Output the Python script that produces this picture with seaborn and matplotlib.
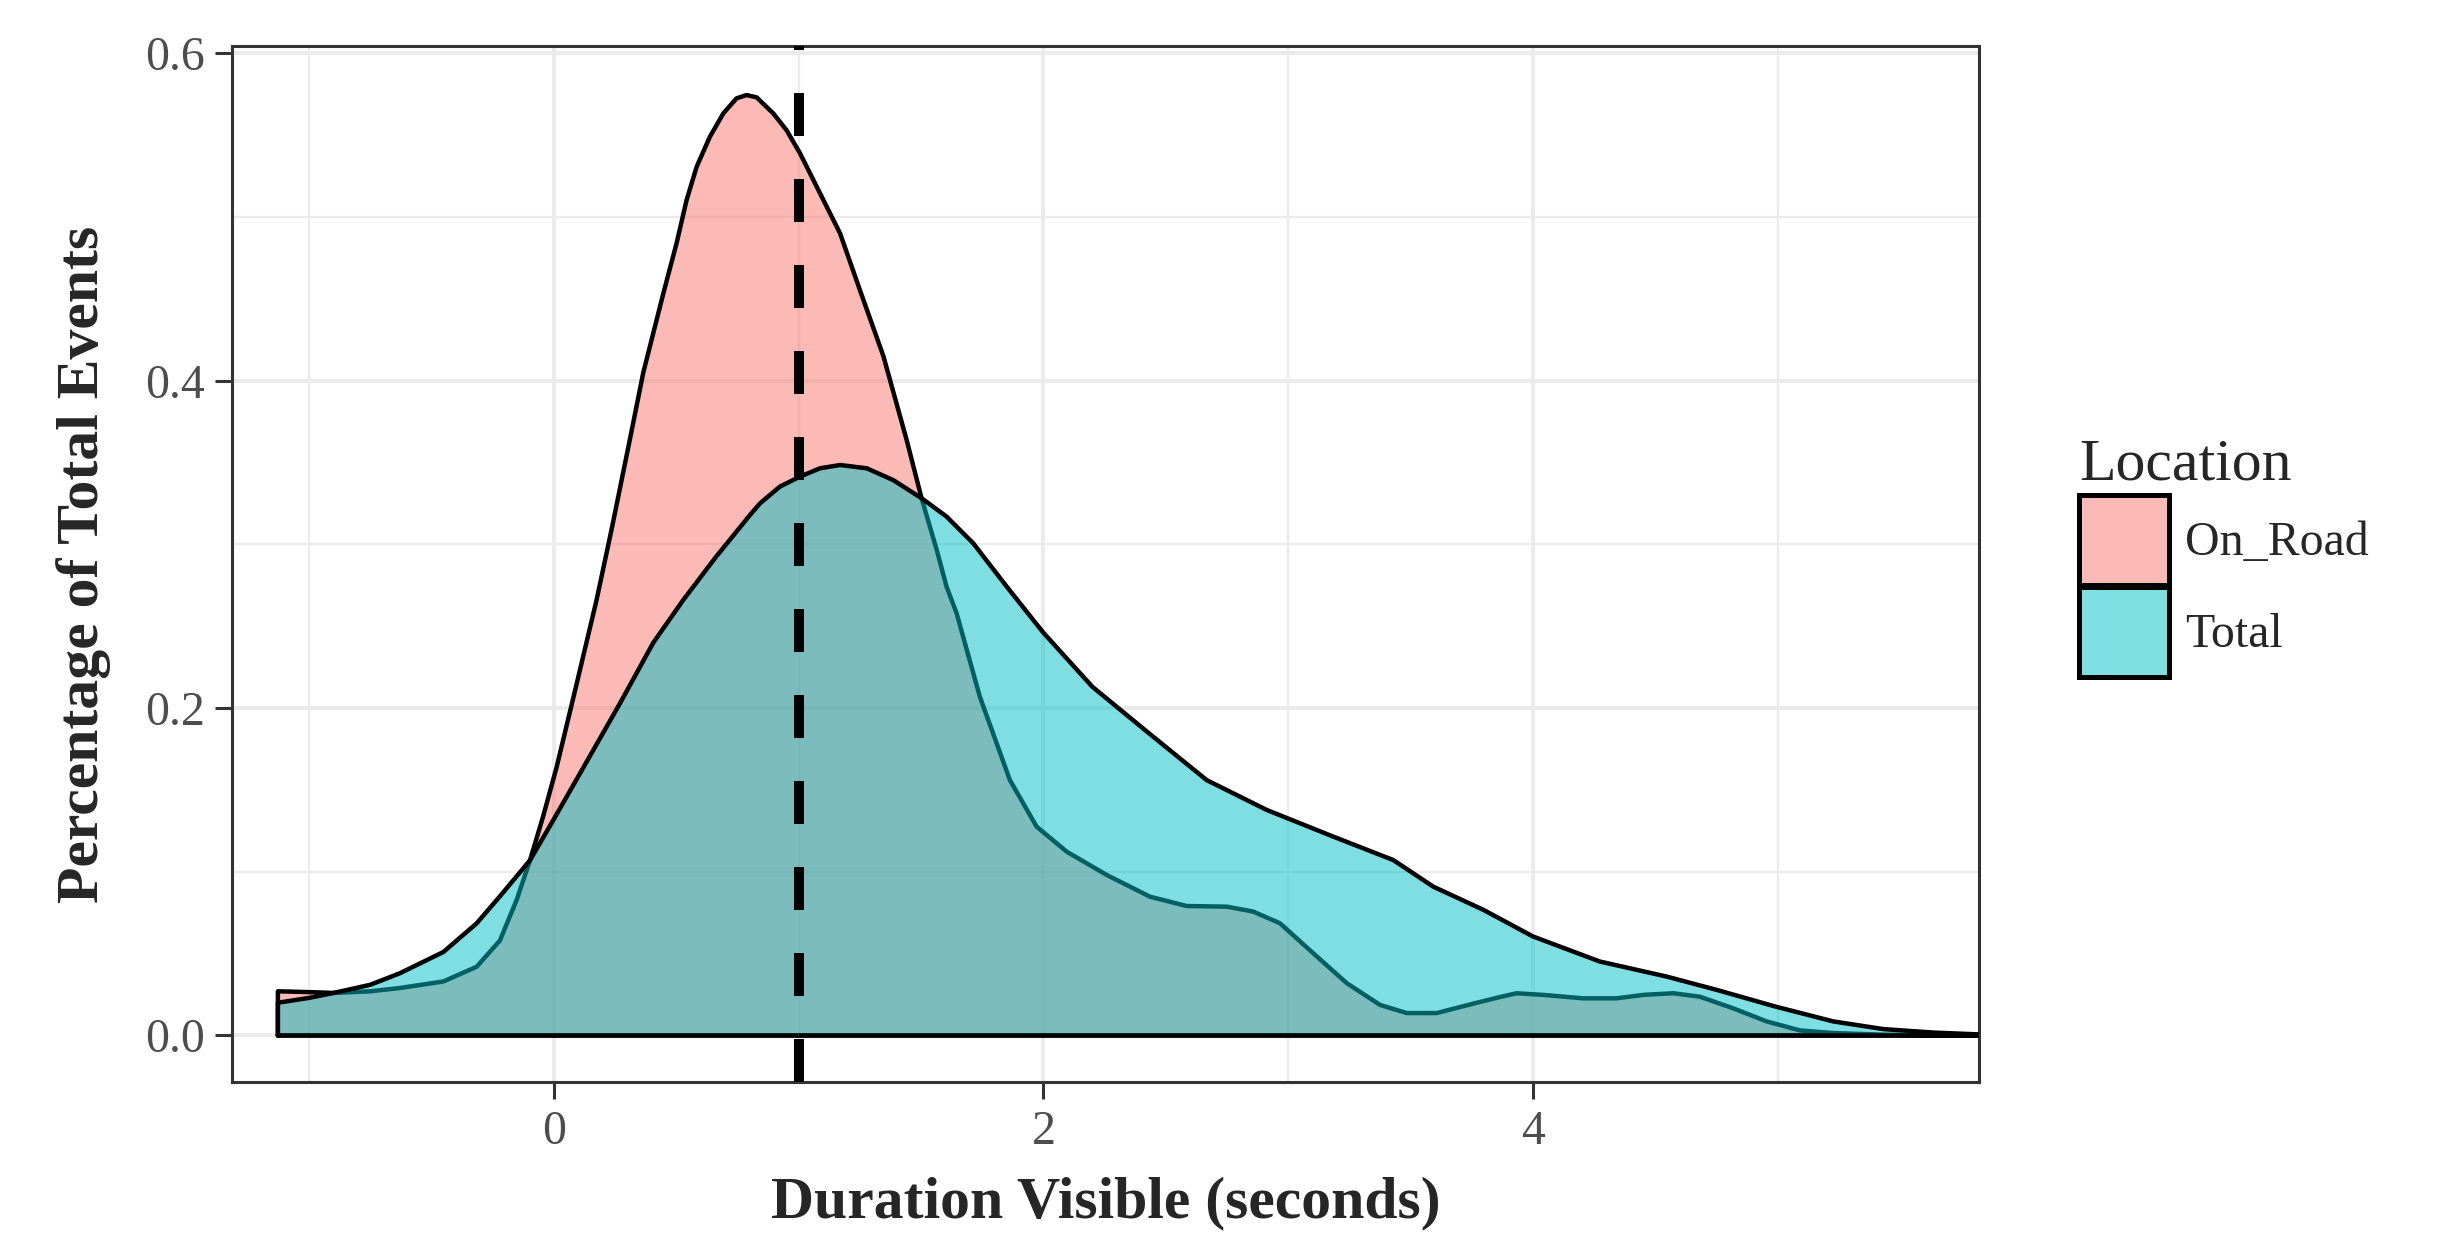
import matplotlib

matplotlib.use("Agg")
import matplotlib.pyplot as plt
import pandas as pd
import seaborn as sns
from matplotlib.patches import Patch

# density curves
on_road_x = [-1.128, -1.0, -0.9, -0.75, -0.63, -0.452, -0.316, -0.221, -0.152, -0.098,
             -0.044, 0.011, 0.093, 0.174, 0.238, 0.31, 0.365, 0.447, 0.501, 0.542,
             0.583, 0.637, 0.692, 0.746, 0.787, 0.828, 0.896, 0.95, 1.005, 1.087,
             1.169, 1.25, 1.346, 1.441, 1.502, 1.564, 1.604, 1.645, 1.74, 1.863,
             1.972, 2.095, 2.258, 2.435, 2.585, 2.749, 2.857, 2.966, 3.102, 3.239,
             3.375, 3.484, 3.607, 3.757, 3.865, 3.933, 4.042, 4.205, 4.341, 4.45,
             4.573, 4.682, 4.818, 4.955, 5.091, 5.227, 5.43, 5.85]
on_road_y = [0.027, 0.0265, 0.026, 0.027, 0.029, 0.033, 0.042, 0.058, 0.083, 0.107,
             0.134, 0.164, 0.215, 0.266, 0.311, 0.364, 0.405, 0.4534, 0.484, 0.5104,
             0.5307, 0.549, 0.5633, 0.5725, 0.5745, 0.5731, 0.5633, 0.5531, 0.539, 0.5145,
             0.49, 0.4554, 0.415, 0.3638, 0.3282, 0.2966, 0.2742, 0.258, 0.207, 0.156,
             0.1276, 0.1123, 0.0981, 0.0848, 0.0791, 0.0787, 0.0757, 0.0686, 0.0503, 0.032,
             0.0187, 0.0137, 0.0137, 0.0195, 0.0235, 0.0258, 0.0248, 0.0227, 0.0227, 0.0248,
             0.0258, 0.0237, 0.0166, 0.0086, 0.0031, 0.0015, 0.0005, 0.0]

total_x = [-1.128, -1.0, -0.9, -0.75, -0.63, -0.452, -0.316, -0.221, -0.098, -0.003,
           0.106, 0.27, 0.406, 0.528, 0.66, 0.801, 0.842, 0.923, 1.005, 1.087,
           1.169, 1.278, 1.386, 1.502, 1.604, 1.713, 1.85, 2.0, 2.2, 2.428,
           2.667, 2.912, 3.184, 3.429, 3.593, 3.797, 4.0, 4.273, 4.546, 4.75,
           4.99, 5.227, 5.432, 5.636, 5.85]
total_y = [0.020, 0.023, 0.026, 0.031, 0.038, 0.051, 0.0685, 0.085, 0.107, 0.1315,
           0.160, 0.203, 0.240, 0.266, 0.292, 0.318, 0.3251, 0.3353, 0.3414, 0.3465,
           0.3485, 0.3465, 0.3393, 0.3282, 0.317, 0.3007, 0.2742, 0.246, 0.213, 0.185,
           0.156, 0.1378, 0.1215, 0.1072, 0.0909, 0.0768, 0.0605, 0.0452, 0.036, 0.0279,
           0.0177, 0.0086, 0.0039, 0.0018, 0.0005]

locations = ["On_Road", "Total"]
fill_colors = ["#F8766D", "#00BFC4"]
key_colors = ["#FBBAB6", "#80DFE1"]
cutoff = 1.0

x_ticks = [0, 2, 4]
y_ticks = [0.0, 0.2, 0.4, 0.6]
y_tick_labels = ["0.0", "0.2", "0.4", "0.6"]

sns.set_theme(style="white")
plt.rcParams["font.family"] = ["Liberation Serif", "DejaVu Serif"]

fig = plt.figure(figsize=(24.47, 12.35), dpi=100)
ax = fig.add_axes([0.095, 0.1239, 0.8087 - 0.095, 0.9628 - 0.1239])

curves = {"On_Road": (on_road_x, on_road_y), "Total": (total_x, total_y)}
for idx, (name, color) in enumerate(zip(locations, fill_colors)):
    xs, ys = curves[name]
    ax.fill_between(xs, 0, ys, color=color, alpha=0.5, linewidth=0, zorder=2 + 2 * idx)
    # outline as ggplot draws it: left edge, curve, baseline
    outline = pd.DataFrame({
        "x": [xs[0]] + list(xs) + [xs[-1], xs[0]],
        "y": [0.0] + list(ys) + [0.0, 0.0],
    })
    sns.lineplot(data=outline, x="x", y="y", sort=False, estimator=None, color="black",
                 linewidth=3.2, ax=ax, zorder=3 + 2 * idx)

ax.axvline(cutoff, color="black", linewidth=7.2, dashes=(4.3, 4.3), zorder=10)

ax.set_xlim(-1.3136, 5.822)
ax.set_ylim(-0.0284, 0.6045)
ax.set_xticks(x_ticks)
ax.set_xticklabels([str(t) for t in x_ticks])
ax.set_yticks(y_ticks)
ax.set_yticklabels(y_tick_labels)
ax.set_xticks([-1, 1, 3, 5], minor=True)
ax.set_yticks([0.1, 0.3, 0.5], minor=True)
ax.grid(which="major", color="#EBEBEB", linewidth=2.9, zorder=0)
ax.grid(which="minor", color="#EBEBEB", linewidth=1.6, zorder=0)
ax.set_axisbelow(True)
ax.tick_params(which="major", length=12, width=2.2, color="#333333", labelcolor="#4D4D4D",
               labelsize=34.5, pad=8, bottom=True, left=True)
ax.tick_params(which="minor", length=0)
for spine in ax.spines.values():
    spine.set_color("#333333")
    spine.set_linewidth(2.2)

ax.set_xlabel("Duration Visible (seconds)", fontsize=43, fontweight="bold", labelpad=16.5)
ax.set_ylabel("Percentage of Total Events", fontsize=43, fontweight="bold", labelpad=24)

handles = [Patch(facecolor=c, edgecolor="black", linewidth=3.6) for c in key_colors]
leg = fig.legend(handles, locations, title="Location", loc="upper left",
                 bbox_to_anchor=(0.8496, 0.6446), frameon=False, fontsize=34.5,
                 title_fontsize=43, handlelength=1.875, handleheight=2.5,
                 handletextpad=0.33, labelspacing=0.05, borderpad=0, borderaxespad=0,
                 alignment="left")

fig.savefig("out.png", dpi=100)
